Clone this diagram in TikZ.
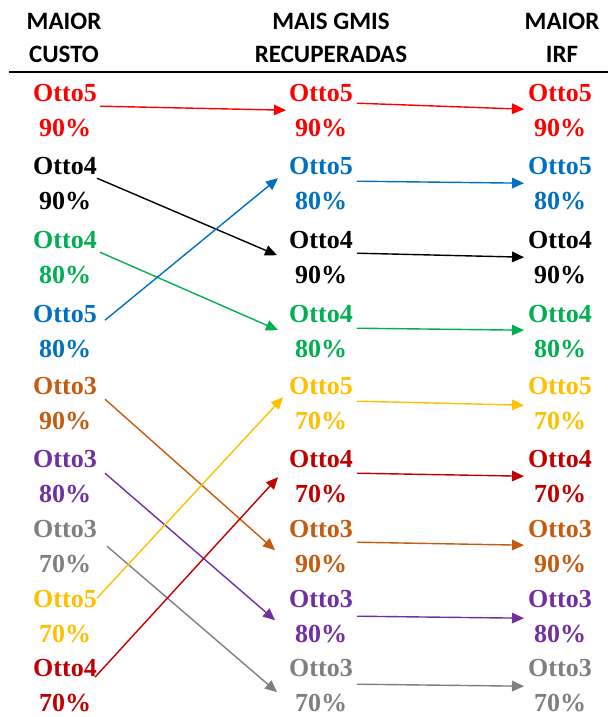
\documentclass[tikz,border=0pt]{standalone}
\usepackage{fontspec}
\setmainfont{Liberation Serif}
\newfontfamily\headfont{Carlito}
\usetikzlibrary{arrows.meta,calc}
\definecolor{cRed}{HTML}{FF0000}
\definecolor{cBlack}{HTML}{000000}
\definecolor{cGreen}{HTML}{00B050}
\definecolor{cBlue}{HTML}{0070C0}
\definecolor{cOrange}{HTML}{C55A11}
\definecolor{cPurple}{HTML}{7030A0}
\definecolor{cGray}{HTML}{7F7F7F}
\definecolor{cGold}{HTML}{FFC000}
\definecolor{cDarkRed}{HTML}{C00000}
\begin{document}
\begin{tikzpicture}[x=1pt,y=-1pt,
  head/.style={font=\headfont\bfseries\fontsize{25}{25}\selectfont, anchor=base, inner sep=0pt},
  item/.style={font=\bfseries\fontsize{26}{26}\selectfont, anchor=base, inner sep=0pt, text depth=0pt},
  link/.style={line width=1.4pt, -{Triangle[length=12pt,width=10.5pt]}},
]
\fill[white] (0,0) rectangle (608,717);
\useasboundingbox (0,0) rectangle (608,717);

% column headings
\node[head] (h1a) at (64,30) {MAIOR};
\node[head] (h1b) at (64,63) {CUSTO};
\node[head] (h2a) at (331,30) {MAIS GMIS};
\node[head] (h2b) at (331,63) {RECUPERADAS};
\node[head] (h3a) at (562,30) {MAIOR};
\node[head] (h3b) at (562,63) {IRF};
\draw[line width=1.6pt] (9,72) -- (608,72);

% rows: baseline / left entry / middle entry (right column repeats the middle one)
\foreach \i/\y/\ln/\lp/\lc/\mn/\mp/\mc in {
  1/101/Otto5/90/cRed/Otto5/90/cRed,
  2/174/Otto4/90/cBlack/Otto5/80/cBlue,
  3/248/Otto4/80/cGreen/Otto4/90/cBlack,
  4/322/Otto5/80/cBlue/Otto4/80/cGreen,
  5/394/Otto3/90/cOrange/Otto5/70/cGold,
  6/467/Otto3/80/cPurple/Otto4/70/cDarkRed,
  7/537/Otto3/70/cGray/Otto3/90/cOrange,
  8/607/Otto5/70/cGold/Otto3/80/cPurple,
  9/676/Otto4/70/cDarkRed/Otto3/70/cGray}{
  \node[item,text=\lc] (L\i) at (65,\y) {\ln};
  \node[item,text=\lc] (Lp\i) at (65,\y+35) {\lp\%};
  \node[item,text=\mc] (M\i) at (321,\y) {\mn};
  \node[item,text=\mc] (Mp\i) at (321,\y+35) {\mp\%};
  \node[item,text=\mc] (R\i) at (560,\y) {\mn};
  \node[item,text=\mc] (Rp\i) at (560,\y+35) {\mp\%};
}

% left to middle
\draw[link,cRed]     ($(L1.south east)+(3,5)$)  -- ($(M1.south west)+(-3,9)$);
\draw[link,cBlack]   ($(L2.south east)+(0,4)$)  -- ($(M3.south west)+(-12,7)$);
\draw[link,cGreen]   ($(L3.south east)+(3,4)$)  -- ($(M4.south west)+(-11,8)$);
\draw[link,cBlue]    ($(L4.south east)+(8,-2)$) -- ($(M2.south west)+(-11,4)$);
\draw[link,cOrange]  ($(L5.south east)+(8,5)$)  -- ($(M7.south west)+(-14,13)$);
\draw[link,cPurple]  ($(L6.south east)+(8,6)$)  -- ($(M8.south west)+(-14,13)$);
\draw[link,cGray]    ($(L7.south east)+(10,9)$) -- ($(M9.south west)+(-12,16)$);
\draw[link,cGold]    ($(L8.south east)+(0,-9)$) -- ($(M5.south west)+(-6,3)$);
\draw[link,cDarkRed] ($(L9.south east)+(-2,1)$) -- ($(M6.south west)+(-11,10)$);

% middle to right
\foreach \i/\c/\sy/\ey in {1/cRed/2/8, 2/cBlue/7/9, 3/cBlack/5/9, 4/cGreen/6/8,
  5/cGold/7/11, 6/cDarkRed/6/9, 7/cOrange/5/8, 8/cPurple/9/11, 9/cGray/8/10}{
  \draw[link,\c] ($(M\i.south east)+(4,\sy)$) -- ($(R\i.south west)+(-4,\ey)$);
}
\end{tikzpicture}
\end{document}
